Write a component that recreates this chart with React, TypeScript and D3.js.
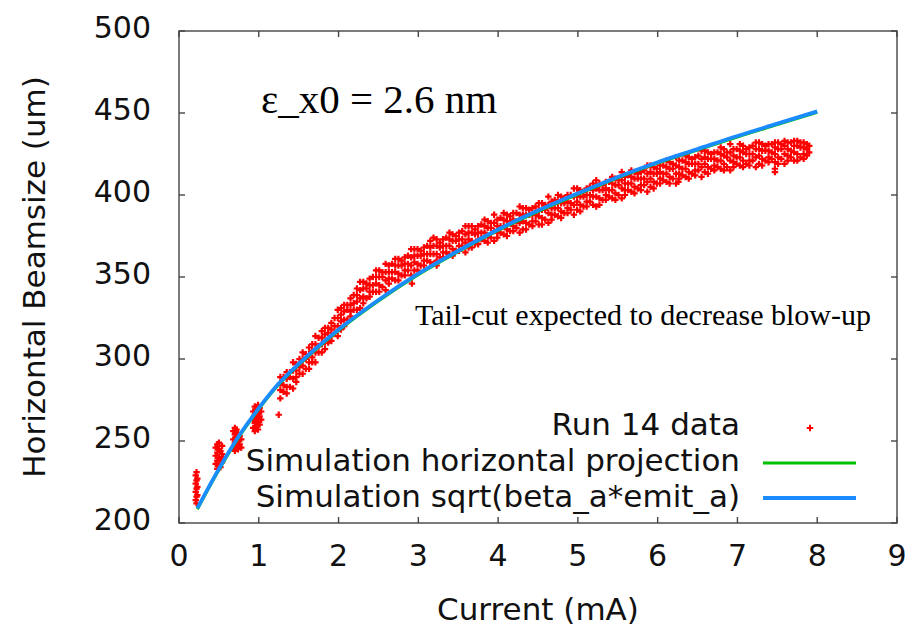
import { scaleLinear, line as d3Line, curveMonotoneX } from "d3";

// axis ticks
const xTicks = [0, 1, 2, 3, 4, 5, 6, 7, 8, 9];
const yTicks = [200, 250, 300, 350, 400, 450, 500];

// simulation curve (current mA, beamsize um)
const simCurve: [number, number][] = [
  [0.23, 209], [0.5, 233], [0.75, 253], [1.0, 270], [1.25, 285], [1.5, 297],
  [2.0, 318], [2.5, 336], [3.0, 352], [3.5, 366], [4.0, 379], [4.5, 390.5],
  [5.0, 401], [5.5, 411], [6.0, 420], [6.5, 428], [7.0, 436], [7.5, 443.5], [8.0, 451],
];

// run 14 measurements, each row: current, then beamsizes seen at that current
const run14Rows: number[][] = [
  [0.21, 214, 219, 224, 229], [0.22, 212, 216, 221, 226, 231], [0.23, 217, 222, 227],
  [0.46, 236, 241, 246], [0.48, 233, 238, 243, 248], [0.5, 235, 240, 245, 249],
  [0.52, 234, 239, 244], [0.54, 237, 242, 247], [0.55, 240],
  [0.68, 246, 251, 256], [0.7, 244, 249, 254, 258], [0.72, 247, 252, 257],
  [0.74, 245, 250, 255], [0.76, 248, 253], [0.78, 246, 251],
  [0.93, 258, 263, 268], [0.95, 256, 261, 266, 271], [0.97, 259, 264, 269],
  [0.99, 257, 262, 267, 272], [1.01, 260, 265, 270], [1.03, 263, 268],
  [1.25, 266],
  [1.27, 276, 281, 285, 289], [1.31, 280, 284, 289], [1.35, 279, 283, 288, 292],
  [1.39, 283, 289, 292], [1.43, 282, 288, 293, 298], [1.47, 286, 289, 293, 297],
  [1.51, 291, 295, 300], [1.55, 291, 296, 300, 304], [1.59, 294, 300, 303],
  [1.63, 294, 298, 303, 307], [1.67, 298, 301, 305, 309], [1.71, 298, 304, 309, 314],
  [1.75, 304, 308, 313], [1.79, 304, 309, 313, 317], [1.83, 306, 310, 315, 319],
  [1.87, 310, 316, 319], [1.91, 311, 314, 318, 322], [1.95, 316, 320, 325],
  [1.99, 314, 320, 325, 330], [2.03, 318, 323, 327, 331], [2.07, 320, 324, 329, 333],
  [2.11, 324, 330, 333], [2.15, 326, 329, 333, 337], [2.19, 330, 334, 339],
  [2.23, 330, 335, 339, 343], [2.27, 331, 337, 342, 347], [2.31, 334, 338, 343, 347],
  [2.35, 337, 343, 346], [2.39, 338, 341, 345, 349], [2.43, 341, 345, 350],
  [2.47, 341, 346, 350, 354], [2.51, 341, 345, 350, 354], [2.55, 344, 350, 353],
  [2.59, 342, 348, 353, 358], [2.63, 346, 349, 353, 357], [2.67, 349, 353, 358],
  [2.71, 348, 353, 357, 361], [2.75, 348, 352, 357, 361], [2.79, 351, 357, 360],
  [2.83, 351, 354, 358, 362], [2.87, 354, 358, 363], [2.91, 351, 357, 362, 367],
  [2.92, 346], [2.95, 354, 359, 363, 367], [2.99, 354, 358, 363, 367],
  [3.03, 357, 363, 366], [3.07, 357, 360, 364, 368], [3.11, 360, 364, 369],
  [3.15, 359, 364, 368, 372], [3.19, 358, 364, 369, 374], [3.23, 357, 360, 364, 369, 373],
  [3.27, 362, 368, 371], [3.31, 362, 365, 369, 373], [3.35, 365, 369, 374],
  [3.39, 364, 369, 373, 377], [3.43, 363, 367, 372, 376], [3.47, 366, 372, 375],
  [3.51, 366, 369, 373, 377], [3.55, 369, 373, 378], [3.59, 365, 371, 376, 381],
  [3.63, 368, 373, 377, 381], [3.67, 368, 372, 377, 381], [3.71, 370, 376, 379],
  [3.75, 370, 373, 377, 381], [3.79, 373, 377, 382], [3.83, 372, 377, 381, 385],
  [3.87, 371, 375, 380, 384], [3.91, 374, 380, 383], [3.95, 372, 378, 383, 388],
  [3.99, 374, 377, 381, 385], [4.03, 377, 381, 386], [4.07, 376, 381, 385, 389],
  [4.11, 375, 379, 384, 388], [4.15, 378, 384, 387], [4.19, 378, 381, 385, 389],
  [4.23, 380, 384, 389], [4.27, 377, 383, 388, 393], [4.31, 379, 384, 388, 392],
  [4.35, 379, 383, 388, 392], [4.39, 382, 388, 391], [4.43, 381, 384, 388, 392],
  [4.47, 384, 388, 393], [4.51, 382, 387, 391, 395], [4.55, 382, 386, 391, 395],
  [4.59, 385, 391, 394], [4.63, 383, 389, 394, 399], [4.67, 385, 388, 392, 396],
  [4.71, 388, 392, 397], [4.75, 387, 392, 396, 400], [4.79, 386, 390, 395, 399],
  [4.83, 389, 395, 398], [4.87, 389, 392, 396, 400], [4.91, 391, 395, 400],
  [4.95, 388, 394, 399, 404], [4.99, 391, 396, 400, 404], [5.03, 390, 394, 399, 403],
  [5.07, 393, 399, 402], [5.11, 393, 396, 400, 404], [5.15, 396, 400, 405],
  [5.19, 394, 399, 403, 407], [5.23, 393, 399, 404, 409], [5.27, 394, 398, 403, 407],
  [5.31, 397, 403, 406], [5.35, 397, 400, 404, 408], [5.39, 399, 403, 408],
  [5.43, 398, 403, 407, 411], [5.47, 397, 401, 406, 410], [5.51, 400, 406, 409],
  [5.55, 398, 404, 409, 414], [5.59, 400, 403, 407, 411], [5.63, 403, 407, 412],
  [5.67, 402, 407, 411, 415], [5.71, 401, 405, 410, 414], [5.75, 404, 410, 413],
  [5.79, 403, 406, 410, 414], [5.83, 406, 410, 415], [5.87, 402, 408, 413, 418],
  [5.91, 405, 410, 414, 418], [5.95, 404, 408, 413, 417], [5.99, 407, 413, 416],
  [6.03, 407, 410, 414, 418], [6.07, 409, 413, 418], [6.11, 408, 413, 417, 421],
  [6.15, 407, 411, 416, 420], [6.19, 410, 416, 419], [6.23, 407, 413, 418, 423],
  [6.26, 408], [6.27, 410, 413, 417, 421], [6.31, 412, 416, 421],
  [6.35, 411, 416, 420, 424], [6.39, 410, 414, 419, 423], [6.43, 413, 419, 422],
  [6.47, 412, 415, 419, 423], [6.51, 415, 419, 424], [6.55, 411, 417, 422, 427],
  [6.59, 414, 419, 423, 427], [6.63, 413, 417, 422, 426], [6.67, 416, 422, 425],
  [6.71, 415, 418, 422, 426], [6.75, 417, 421, 426], [6.79, 416, 421, 425, 429],
  [6.83, 415, 419, 424, 428], [6.87, 417, 423, 426], [6.91, 415, 421, 426, 431],
  [6.95, 417, 420, 424, 428], [6.99, 419, 423, 428], [7.03, 418, 423, 427, 431],
  [7.07, 417, 421, 426, 430], [7.11, 419, 425, 428], [7.15, 418, 421, 425, 429],
  [7.19, 421, 425, 430], [7.23, 417, 423, 428, 432], [7.27, 419, 424, 428, 432],
  [7.31, 418, 422, 427, 431], [7.35, 421, 427, 430], [7.39, 420, 423, 427, 431],
  [7.43, 422, 426, 431], [7.47, 414, 416, 420, 425, 429, 432], [7.51, 419, 423, 428, 432],
  [7.55, 422, 428, 431], [7.59, 419, 425, 430, 433], [7.63, 421, 424, 428, 432],
  [7.67, 423, 427, 432], [7.71, 421, 426, 430, 433], [7.75, 421, 425, 430, 433],
  [7.79, 423, 429, 432], [7.83, 422, 425, 429, 432], [7.87, 424, 428, 431],
  [7.9, 426, 430],
];

const legendLabels = ["Run 14 data", "Simulation horizontal projection", "Simulation sqrt(beta_a*emit_a)"];

const W = 916;
const H = 627;
const PLOT = { left: 179, right: 897, top: 31, bottom: 523 };
const SANS = "DejaVu Sans, sans-serif";
const SERIF = "Liberation Serif, Times New Roman, serif";
const FRAME = "#444";

const App = () => {
  const x = scaleLinear().domain([0, 9]).range([PLOT.left, PLOT.right]);
  const y = scaleLinear().domain([200, 500]).range([PLOT.bottom, PLOT.top]);

  const points: [number, number][] = [];
  run14Rows.forEach((row) => {
    for (let i = 1; i < row.length; i++) points.push([row[0], row[i]]);
  });

  const simLine = d3Line<[number, number]>()
    .x((d) => x(d[0]))
    .y((d) => y(d[1]))
    .curve(curveMonotoneX);
  const simPath = simLine(simCurve) || "";

  const cross = "M-3.2,0H3.2M0,-3.2V3.2";
  const legendX = 740;
  const legendY = [435, 471, 507];

  return (
    <svg width={W} height={H} style={{ position: "absolute", left: 0, top: 0, background: "white" }}>
      {/* data */}
      <g>
        {points.map((p, i) => (
          <path key={i} d={cross} transform={`translate(${x(p[0])},${y(p[1])})`} stroke="#ff0000" strokeWidth={2.2} />
        ))}
      </g>
      <path d={simPath} fill="none" stroke="#00c000" strokeWidth={3} transform="translate(0,1)" />
      <path d={simPath} fill="none" stroke="#1a8cff" strokeWidth={3.8} />

      {/* frame and ticks */}
      <rect
        x={PLOT.left}
        y={PLOT.top}
        width={PLOT.right - PLOT.left}
        height={PLOT.bottom - PLOT.top}
        fill="none"
        stroke={FRAME}
        strokeWidth={1.4}
      />
      {xTicks.map((t) => (
        <g key={"x" + t}>
          <line x1={x(t)} x2={x(t)} y1={PLOT.bottom} y2={PLOT.bottom - 6} stroke={FRAME} strokeWidth={1.4} />
          <line x1={x(t)} x2={x(t)} y1={PLOT.top} y2={PLOT.top + 6} stroke={FRAME} strokeWidth={1.4} />
          <text x={x(t)} y={566} textAnchor="middle" fontFamily={SANS} fontSize={30} fill="#111">
            {t}
          </text>
        </g>
      ))}
      {yTicks.map((t) => (
        <g key={"y" + t}>
          <line x1={PLOT.left} x2={PLOT.left + 6} y1={y(t)} y2={y(t)} stroke={FRAME} strokeWidth={1.4} />
          <line x1={PLOT.right} x2={PLOT.right - 6} y1={y(t)} y2={y(t)} stroke={FRAME} strokeWidth={1.4} />
          <text x={151} y={y(t) + 7} textAnchor="end" fontFamily={SANS} fontSize={30} fill="#111">
            {t}
          </text>
        </g>
      ))}

      {/* axis labels */}
      <text x={(PLOT.left + PLOT.right) / 2} y={620} textAnchor="middle" fontFamily={SANS} fontSize={31} fill="#111">
        Current (mA)
      </text>
      <text
        transform={`translate(45, ${(PLOT.top + PLOT.bottom) / 2}) rotate(-90)`}
        textAnchor="middle"
        fontFamily={SANS}
        fontSize={31}
        fill="#111"
      >
        Horizontal Beamsize (um)
      </text>

      {/* annotations */}
      <text x={261} y={113} fontFamily={SERIF} fontSize={41} fill="#000">
        ε_x0 = 2.6 nm
      </text>
      <text x={415} y={325} fontFamily={SERIF} fontSize={30} fill="#000">
        Tail-cut expected to decrease blow-up
      </text>

      {/* legend */}
      {legendLabels.map((l, i) => (
        <text key={l} x={legendX} y={legendY[i]} textAnchor="end" fontFamily={SANS} fontSize={31} fill="#111">
          {l}
        </text>
      ))}
      <path d={cross} transform={`translate(810,${legendY[0] - 7})`} stroke="#ff0000" strokeWidth={2} />
      <line x1={763} x2={856} y1={legendY[1] - 8} y2={legendY[1] - 8} stroke="#00c000" strokeWidth={3} />
      <line x1={763} x2={856} y1={legendY[2] - 9} y2={legendY[2] - 9} stroke="#1a8cff" strokeWidth={3.8} />
    </svg>
  );
};

export default App;
